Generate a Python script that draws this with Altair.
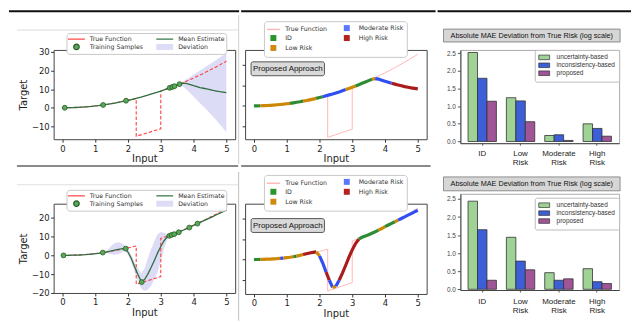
import altair as alt
import pandas as pd

DV = "DejaVu Sans"
LS = "Liberation Sans"

# ---------------- data ----------------
x_grid = [0.0, 0.1, 0.2, 0.3, 0.4, 0.5, 0.6, 0.7, 0.8, 0.9,
          1.0, 1.1, 1.2, 1.3, 1.4, 1.5, 1.6, 1.7, 1.8, 1.9,
          2.0, 2.1, 2.2, 2.3, 2.4, 2.5, 2.6, 2.7, 2.8, 2.9,
          3.0, 3.1, 3.2, 3.3, 3.4, 3.5, 3.6, 3.7, 3.8, 3.9,
          4.0, 4.1, 4.2, 4.3, 4.4, 4.5, 4.6, 4.7, 4.8, 4.9, 5.0]

mean_top = [0.0, 0.01, 0.04, 0.1, 0.16, 0.25, 0.36, 0.5, 0.64, 0.8,
            1.0, 1.2, 1.45, 1.7, 1.95, 2.25, 2.55, 2.9, 3.25, 3.6,
            4.0, 4.4, 4.85, 5.3, 5.75, 6.25, 6.75, 7.3, 7.85, 8.4,
            9.0, 9.6, 10.25, 10.9, 11.55, 12.2, 12.85, 13.2, 12.95, 12.45,
            11.9, 11.4, 10.9, 10.5, 10.1, 9.7, 9.3, 9.0, 8.7, 8.45, 8.2]

mean_bot = [0.0, 0.0, 0.05, 0.1, 0.15, 0.2, 0.3, 0.4, 0.55, 0.7,
            0.9, 1.1, 1.35, 1.65, 2.0, 2.4, 2.8, 3.2, 3.5, 3.7,
            1.8, -1.7, -6.1, -10.1, -13.6, -13.0, -10.1, -6.6, -2.8, 1.2,
            4.7, 7.8, 9.9, 10.9, 11.5, 12.1, 12.8, 13.5, 14.3, 15.1,
            16.0, 16.8, 17.6, 18.4, 19.2, 20.0, 20.8, 21.6, 22.4, 23.2, 24.0]

band_top_x = [0.0, 0.5, 1.0, 1.5, 2.0, 2.5, 3.0, 3.3, 3.6, 3.8, 4.0, 4.2, 4.4, 4.6, 4.8, 5.0]
band_top_lo = [-0.2, 0.05, 0.8, 2.05, 3.8, 6.05, 8.8, 10.7, 12.6, 9.5, 6.0, 2.5, -1.0, -4.8, -8.8, -13.0]
band_top_hi = [0.2, 0.45, 1.2, 2.45, 4.2, 6.45, 9.2, 11.1, 13.3, 15.5, 17.8, 20.0, 22.3, 24.6, 27.0, 29.4]

band_bot_x = [0.0, 0.5, 1.0, 1.2, 1.3, 1.4, 1.5, 1.6, 1.7, 1.8, 1.9, 2.0, 2.1, 2.2, 2.3,
              2.4, 2.5, 2.6, 2.7, 2.8, 2.9, 3.0, 3.1, 3.2, 3.3, 3.5, 4.0, 4.5, 5.0]
band_bot_lo = [-0.3, -0.1, 0.5, 1.1, 1.2, 1.0, 0.6, 0.4, 0.6, 1.4, 2.4, 0.4, -3.6, -8.7, -13.5,
               -17.6, -18.8, -18.3, -16.3, -13.0, -8.9, -3.3, 3.6, 8.5, 10.4, 11.8, 15.7, 19.7, 23.7]
band_bot_hi = [0.3, 0.5, 1.3, 1.6, 2.2, 3.3, 5.2, 6.6, 7.0, 6.4, 5.2, 3.2, 0.2, -3.5, -6.7,
               -9.6, -7.2, -1.9, 3.1, 7.4, 11.3, 12.4, 12.0, 11.3, 11.4, 12.4, 16.3, 20.3, 24.3]

true_x = [0.0, 0.25, 0.5, 0.75, 1.0, 1.25, 1.5, 1.75, 2.0, 2.25, 2.25, 2.5, 2.75, 3.0,
          3.0, 3.25, 3.5, 3.75, 4.0, 4.25, 4.5, 4.75, 5.0]
true_y = [0.0, 0.06, 0.25, 0.56, 1.0, 1.56, 2.25, 3.06, 4.0, 5.06, -15.3, -14.0, -12.6, -11.3,
          9.0, 10.56, 12.25, 14.06, 16.0, 18.06, 20.25, 22.56, 25.0]

samp_top_x = [0.07, 1.24, 1.94, 3.27, 3.35, 3.42, 3.57]
samp_top_y = [0.0, 1.5, 3.8, 10.7, 11.2, 11.6, 12.7]
samp_bot_x = [0.03, 1.23, 1.93, 2.42, 3.26, 3.33, 3.41, 3.55, 3.87, 4.12]
samp_bot_y = [0.0, 1.5, 3.6, -14.2, 10.4, 10.9, 11.3, 12.3, 14.8, 16.9]

risk_top_breaks = [0.0, 0.2, 1.1, 1.5, 1.9, 2.1, 2.8, 3.1, 3.6, 3.7, 4.2, 5.0]
risk_top_cats = ["ID", "Low Risk", "ID", "Low Risk", "ID", "Moderate Risk", "Low Risk",
                 "ID", "Low Risk", "Moderate Risk", "High Risk"]
risk_bot_breaks = [0.0, 0.2, 0.8, 0.9, 1.2, 1.3, 1.5, 1.9, 2.0, 2.2, 2.3, 2.4, 2.5, 2.6,
                   3.2, 3.8, 4.0, 4.3, 4.4, 5.0]
risk_bot_cats = ["ID", "Low Risk", "Moderate Risk", "Low Risk", "ID", "Low Risk", "High Risk",
                 "Low Risk", "Moderate Risk", "High Risk", "Moderate Risk", "Low Risk",
                 "Moderate Risk", "High Risk", "ID", "Low Risk", "ID", "Low Risk", "Moderate Risk"]

bar_cats = ["ID", "Low Risk", "Moderate Risk", "High Risk"]
methods = ["uncertainty-based", "inconsistency-based", "proposed"]
top_unc = [2.52, 1.24, 0.17, 0.50]
top_inc = [1.79, 1.15, 0.19, 0.37]
top_pro = [1.14, 0.56, 0.03, 0.15]
bot_unc = [2.44, 1.44, 0.46, 0.57]
bot_inc = [1.65, 0.78, 0.25, 0.21]
bot_pro = [0.25, 0.54, 0.29, 0.16]

a_legend_labels = ["True Function", "Training Samples", "Mean Estimate", "Deviation"]
b_legend_labels = ["True Function", "ID", "Low Risk", "Moderate Risk", "High Risk"]

# ---------------- styles ----------------
C_TRUE = "#ff4040"
C_MEAN = "#2f6f3f"
C_PTS = "#5aa85a"
C_PTS_EDGE = "#235a23"
C_BAND = "#dcdcf7"
RISK_LINE = {"ID": "#2e8b34", "Low Risk": "#cd8700", "Moderate Risk": "#2f4ff5",
             "High Risk": "#aa1c1c", "True Function": "#ffb8b8"}
RISK_LEG = {"Moderate Risk": "#5a78ff", "ID": "#2a962a", "High Risk": "#b22222", "Low Risk": "#d08a10"}
BAR_COLORS = ["#a0d296", "#3c5fd7", "#a05596"]
XDOM = [-0.27, 5.27]
ONE = pd.DataFrame({"k": [0]})
A_PATHS = {"True Function": "M-2.43,0H2.43", "Mean Estimate": "M-2.43,0H2.43",
           "Training Samples": "M-0.79,0A0.79,0.79,0,1,0,0.79,0A0.79,0.79,0,1,0,-0.79,0Z",
           "Deviation": "M-2.43,-0.86H2.43V0.86H-2.43Z"}
B_LINE_PATH = "M-2.17,0H2.17"
B_SQ_PATH = "M-1,-1H1V1H-1Z"
C_RECT_PATH = "M-1.83,-0.77H1.83V0.77H-1.83Z"


def px_rect(x0, x1, y0, y1, color):
    return alt.Chart(ONE).mark_rect(fill=color, strokeWidth=0).encode(
        x=alt.value(x0), x2=alt.value(x1), y=alt.value(y0), y2=alt.value(y1))


def extent(x0, x1, y0, y1):
    return alt.Chart(ONE).mark_rule(opacity=0).encode(
        x=alt.value(x0), x2=alt.value(x1), y=alt.value(y0), y2=alt.value(y1))


def x_enc():
    return alt.X("x:Q", scale=alt.Scale(domain=XDOM, nice=False, zero=False),
                 axis=alt.Axis(values=[0, 1, 2, 3, 4, 5], title="Input", grid=False, domain=False,
                               tickSize=3, tickColor="#333", labelColor="#222", labelFont=DV,
                               labelFontSize=8.5, labelPadding=2, titleFont=DV, titleFontSize=10,
                               titleFontWeight="normal", titleColor="#222", titlePadding=1))


def switch(mapping, default):
    expr = "'%s'" % default
    for k, v in mapping.items():
        expr = "datum.value === '%s' ? %s : %s" % (k, v, expr)
    return expr


def legend_dummy(labels, paths, fill, stroke, dash, sw, size, leg):
    return alt.Chart(alt.Data(values=[])).mark_point(
        filled=True, fill=alt.ExprRef(fill), stroke=alt.ExprRef(stroke),
        strokeDash=alt.ExprRef(dash), strokeWidth=sw, size=size).encode(
        shape=alt.Shape("value:N", scale=alt.Scale(domain=labels, range=paths), legend=leg))


def panel_a(mean, bx, blo, bhi, sx, sy, ydom, yvals, leg_y, ext, decos):
    Y = alt.Y("y:Q", scale=alt.Scale(domain=ydom, nice=False, zero=False),
              axis=alt.Axis(values=yvals, title="Target", grid=False, domain=False, tickSize=3,
                            tickColor="#333", labelColor="#222", labelFont=DV, labelFontSize=8.5,
                            labelPadding=1.5, titleFont=DV, titleFontSize=10,
                            titleFontWeight="normal", titleColor="#222", titlePadding=3))
    band = alt.Chart(pd.DataFrame({"x": bx, "y": blo, "y2": bhi})).mark_area(
        color=C_BAND, opacity=1).encode(x=x_enc(), y=Y, y2="y2:Q")
    true = alt.Chart(pd.DataFrame({"x": true_x, "y": true_y, "o": list(range(len(true_x)))})
                     ).mark_line(color=C_TRUE, strokeDash=[3.5, 2], strokeWidth=1.1).encode(
        x=x_enc(), y=Y, order="o:Q")
    mline = alt.Chart(pd.DataFrame({"x": x_grid, "y": mean})).mark_line(
        color=C_MEAN, strokeWidth=1.3).encode(x=x_enc(), y=Y)
    pts = alt.Chart(pd.DataFrame({"x": sx, "y": sy})).mark_circle(
        size=24, color=C_PTS, stroke=C_PTS_EDGE, strokeWidth=0.8, opacity=1).encode(x=x_enc(), y=Y)
    fill = switch({"Training Samples": "'%s'" % C_PTS, "Deviation": "'%s'" % C_BAND}, "transparent")
    stroke = switch({"True Function": "'%s'" % C_TRUE, "Mean Estimate": "'%s'" % C_MEAN,
                     "Training Samples": "'%s'" % C_PTS_EDGE}, "transparent")
    dash = "datum.value === 'True Function' ? [3, 2] : [1, 0]"
    leg = alt.Legend(orient="none", legendX=13, legendY=leg_y, direction="vertical", columns=2,
                     title=None, fillColor="white", strokeColor="#c8c8c8", cornerRadius=3,
                     padding=1.5, labelFont=DV, labelFontSize=6.3, labelColor="#333",
                     labelOffset=9, symbolOffset=4, columnPadding=10, rowPadding=-1,
                     symbolSize=49, symbolStrokeWidth=1.2, symbolOpacity=1)
    dummy = legend_dummy(a_legend_labels, [A_PATHS[k] for k in a_legend_labels],
                         fill, stroke, dash, 1.2, 49, leg)
    return alt.layer(extent(*ext), band, true, mline, pts, dummy, *decos).properties(
        width=183, height=90)


def seg_table(mean, breaks, cats):
    rows = []
    for i, c in enumerate(cats):
        a, b = breaks[i], breaks[i + 1]
        for xv, yv in zip(x_grid, mean):
            if a - 1e-9 <= xv <= b + 1e-9:
                rows.append({"x": xv, "y": yv, "cat": c, "seg": i})
    return pd.DataFrame(rows)


def panel_b(mean, breaks, cats, ydom, h, leg_y, box_y, ext, decos):
    Y = alt.Y("y:Q", scale=alt.Scale(domain=ydom, nice=False, zero=False),
              axis=alt.Axis(values=[-10, 0, 10, 20], labels=False, title=None, grid=False,
                            domain=False, tickSize=3, tickColor="#333"))
    cscale = alt.Scale(domain=list(RISK_LINE.keys()), range=list(RISK_LINE.values()))
    true = alt.Chart(pd.DataFrame({"x": true_x, "y": true_y, "o": list(range(len(true_x))),
                                   "cat": ["True Function"] * len(true_x)})).mark_line(
        strokeWidth=1).encode(x=x_enc(), y=Y, order="o:Q",
                              color=alt.Color("cat:N", scale=cscale, legend=None))
    segs = alt.Chart(seg_table(mean, breaks, cats)).mark_line(strokeWidth=3.2, strokeCap="butt").encode(
        x=x_enc(), y=Y, detail="seg:N", color=alt.Color("cat:N", scale=cscale, legend=None))
    box = alt.Chart(ONE).mark_rect(fill="#d9d9d9", stroke="#333", strokeWidth=0.8, cornerRadius=2).encode(
        x=alt.value(6), x2=alt.value(80), y=alt.value(box_y), y2=alt.value(box_y + 14))
    txt = alt.Chart(ONE).mark_text(text="Proposed Approach", font=LS, fontSize=8, color="#111",
                                   align="center", baseline="middle").encode(
        x=alt.value(43), y=alt.value(box_y + 7))
    fill = switch({k: "'%s'" % v for k, v in RISK_LEG.items()}, "transparent")
    stroke = "datum.value === 'True Function' ? '%s' : 'transparent'" % RISK_LINE["True Function"]
    leg = alt.Legend(orient="none", legendX=19, legendY=leg_y, direction="vertical", columns=2,
                     title=None, fillColor="white", strokeColor="#c8c8c8", cornerRadius=3,
                     padding=3, labelFont=DV, labelFontSize=6.3, labelColor="#333",
                     labelOffset=8, symbolOffset=2.5, columnPadding=13, rowPadding=-2,
                     symbolSize=36, symbolStrokeWidth=1.5, symbolOpacity=1)
    paths = [B_LINE_PATH if k == "True Function" else B_SQ_PATH for k in b_legend_labels]
    dummy = legend_dummy(b_legend_labels, paths, fill, stroke, "[1, 0]", 1.5, 36, leg)
    return alt.layer(extent(*ext), true, segs, box, txt, dummy, *decos).properties(width=183, height=h)


def panel_c(unc, inc, pro, h, ydom, lab_pad, leg_y, t_y0, t_y1, ext, decos):
    rows = []
    for i, c in enumerate(bar_cats):
        for m, vals in zip(methods, [unc, inc, pro]):
            rows.append({"cat": c, "method": m, "v": vals[i]})
    df = pd.DataFrame(rows)
    leg = alt.Legend(orient="none", legendX=75, legendY=leg_y, direction="vertical", title=None,
                     fillColor="white", strokeColor="#bbb", cornerRadius=2, padding=4,
                     labelFont=LS, labelFontSize=6.5, labelColor="#333", labelOffset=9,
                     symbolOffset=2, rowPadding=-1.5, symbolType=C_RECT_PATH, symbolSize=36,
                     symbolStrokeColor="#333", symbolStrokeWidth=0.7, symbolOpacity=1)
    bars = alt.Chart(df).mark_bar(stroke="#333", strokeWidth=0.8).encode(
        x=alt.X("cat:N", sort=bar_cats, scale=alt.Scale(paddingInner=0.26, paddingOuter=0.2),
                axis=alt.Axis(title=None, labelAngle=0, labelExpr="split(datum.label, ' ')",
                              labelFont=LS, labelFontSize=8, labelColor="#222",
                              labelBaseline="middle", labelLineHeight=9, labelPadding=lab_pad,
                              tickSize=2, tickColor="#555", domainColor="#444", grid=False)),
        xOffset=alt.XOffset("method:N", sort=methods,
                            scale=alt.Scale(paddingInner=0, paddingOuter=0)),
        y=alt.Y("v:Q", scale=alt.Scale(domain=ydom, nice=False, zero=False),
                axis=alt.Axis(values=[0, 0.5, 1, 1.5, 2, 2.5], format=".1f", title=None, grid=False,
                              labelFont=LS, labelFontSize=6.5, labelColor="#444", tickSize=3,
                              tickColor="#555", domainColor="#444", labelPadding=2)),
        y2=alt.datum(0),
        color=alt.Color("method:N", sort=methods,
                        scale=alt.Scale(domain=methods, range=BAR_COLORS), legend=leg))
    tbox = alt.Chart(ONE).mark_rect(fill="#d6d6d6", stroke="#777", strokeWidth=0.8).encode(
        x=alt.value(-17), x2=alt.value(161), y=alt.value(t_y0), y2=alt.value(t_y1))
    ttxt = alt.Chart(ONE).mark_text(text="Absolute MAE Deviation from True Risk (log scale)",
                                    font=LS, fontSize=7.3, color="#111", align="center",
                                    baseline="middle").encode(
        x=alt.value(72), y=alt.value((t_y0 + t_y1) / 2))
    return alt.layer(extent(*ext), bars, tbox, ttxt, *decos).properties(
        width=160, height=h, view=alt.ViewBackground(stroke="#aaa"))


A1 = panel_a(mean_top, band_top_x, band_top_lo, band_top_hi, samp_top_x, samp_top_y,
             [-16.9, 31.1], [-10, 0, 10, 20, 30], -17, (-45, 187, -40, 120),
             [px_rect(-45, 187, -40, -38, "#111"), px_rect(-37, 186, -20.5, -19.5, "#dcdcdc"),
              px_rect(186, 187, -35, 115, "#d0d0d0"), px_rect(-37, 186, 116, 118, "#8a8a8a")])
B1 = panel_b(mean_top, risk_top_breaks, risk_top_cats, [-16.2, 27.1], 90, -29, 12,
             (-4, 192, -40, 120),
             [px_rect(-4, 192, -40, -38, "#111"), px_rect(-4, 187, 116, 118, "#8a8a8a")])
C1 = panel_c(top_unc, top_inc, top_pro, 94, [-0.048, 2.593], 8, 0, -21, -8,
             (-23, 172, -40, 120), [px_rect(-23, 172, -40, -38, "#111")])
A2 = panel_a(mean_bot, band_bot_x, band_bot_lo, band_bot_hi, samp_bot_x, samp_bot_y,
             [-20, 27.5], [-20, -10, 0, 10, 20], -14, (-45, 187, -33, 119),
             [px_rect(-37, 186, -19.5, -18.5, "#e0e0e0"), px_rect(186, 187, -32, 118, "#c0c0c0")])
B2 = panel_b(mean_bot, risk_bot_breaks, risk_bot_cats, [-16.8, 27.2], 91, -29, 15,
             (-4, 192, -33, 119), [])
C2 = panel_c(bot_unc, bot_inc, bot_pro, 97, [-0.02, 2.645], 10, 4, -17, -3,
             (-23, 172, -23, 129), [])


def column(top, bottom):
    return alt.vconcat(top, bottom, spacing=0, bounds="full").resolve_scale(
        color="independent", shape="independent").resolve_legend(
        color="independent", shape="independent")


chart = alt.hconcat(column(A1, A2), column(B1, B2), column(C1, C2), spacing=0,
                    bounds="full").resolve_scale(
    color="independent", shape="independent").resolve_legend(
    color="independent", shape="independent").properties(padding=0).configure(
    font=DV).configure_legend(labelColor="#333").configure_view(stroke="#444", strokeWidth=1)

chart.save("out.html", embed_options={"renderer": "svg", "actions": False})
